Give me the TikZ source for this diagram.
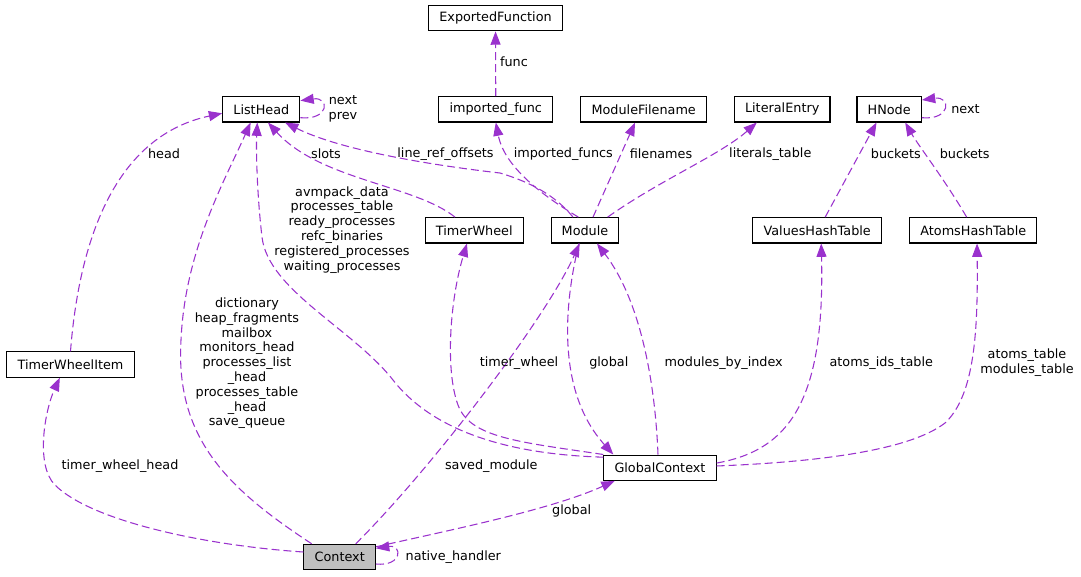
\documentclass[tikz,border=0pt]{standalone}
\usepackage{fontspec}
\setmainfont{DejaVu Sans}
\usepackage{tikz}
\usetikzlibrary{arrows.meta}
\definecolor{edgepurple}{HTML}{9A32CD}
\definecolor{ctxgray}{HTML}{BFBFBF}

\begin{document}
\begin{tikzpicture}[
  x=0.75pt,y=-0.75pt,
  every node/.style={font=\fontsize{9.6}{11.1}\selectfont},
  cls/.style={draw=black,line width=0.8pt,fill=white,minimum height=19pt,
              inner xsep=8pt,inner ysep=0pt},
  lbl/.style={align=center,inner sep=0pt},
  rel/.style={draw=edgepurple,dash pattern=on 6pt off 3pt,line width=0.8pt,
              -{Triangle[length=10pt,width=7.5pt]}}
]
\useasboundingbox (0,0) rectangle (1081,576);

\node[cls] (exportedfn) at (495.5,18.2) {ExportedFunction};
\node[cls] (listhead) at (261.3,109.3) {ListHead};
\node[cls] (importedfn) at (495.8,109.3) {imported\_func};
\node[cls] (modfilename) at (643.7,109.3) {ModuleFilename};
\node[cls] (literal) at (782.2,109.3) {LiteralEntry};
\node[cls] (hnode) at (889.2,109.3) {HNode};
\node[cls] (timerwheel) at (474.3,230.3) {TimerWheel};
\node[cls] (module) at (585,230.3) {Module};
\node[cls] (valueshash) at (817.2,230.3) {ValuesHashTable};
\node[cls] (atomshash) at (973.3,230.3) {AtomsHashTable};
\node[cls] (twitem) at (70.5,364.5) {TimerWheelItem};
\node[cls] (globalctx) at (660,467.7) {GlobalContext};
\node[cls,fill=ctxgray] (context) at (339.7,557) {Context};

\draw[rel] (importedfn) -- (exportedfn);
\draw[rel] ([yshift=-6.3pt]listhead.east) .. controls +(22pt,-2pt) and +(22pt,3pt) .. ([yshift=6.5pt]listhead.east);
\draw[rel] (twitem.north) .. controls (80,230) and (120,135) .. ([yshift=-3pt]listhead.west);
\draw[rel] ([xshift=-21pt]context.north) .. controls (230,490) and (175,440) .. (181,340)
  .. controls (185,250) and (225,180) .. ([xshift=-8pt]listhead.south);
\draw[rel] ([yshift=-2pt]globalctx.north west) .. controls (530,455) and (440,440) .. (393,380)
  .. controls (353,329) and (268,290) .. (262,237)
  .. controls (257,195) and (256,150) .. ([xshift=-3pt]listhead.south);
\draw[rel] ([xshift=-14.5pt]timerwheel.north) .. controls (415,185) and (320,180) .. ([xshift=5pt]listhead.south);
\draw[rel] ([xshift=-9pt]module.north) .. controls (555,195) and (530,182) .. (500,173)
  .. controls (430,165) and (340,150) .. ([xshift=17.8pt]listhead.south);
\draw[rel] ([xshift=-5pt]module.north) .. controls (550,200) and (505,170) .. (importedfn.south);
\draw[rel] ([xshift=6pt]module.north) -- ([xshift=-6.5pt]modfilename.south);
\draw[rel] ([xshift=17pt]module.north) .. controls (660,180) and (720,155) .. ([xshift=-19pt]literal.south);
\draw[rel] ([yshift=-6.3pt]hnode.east) .. controls +(22pt,-2pt) and +(22pt,3pt) .. ([yshift=7pt]hnode.east);
\draw[rel] ([xshift=6pt]valueshash.north) -- ([xshift=-9.5pt]hnode.south);
\draw[rel] ([xshift=-5pt]atomshash.north) .. controls (945,180) and (918,145) .. ([xshift=12pt]hnode.south);
\draw[rel] ([yshift=3.75pt]context.west) .. controls (200,545) and (90,520) .. (55,485)
  .. controls (35,465) and (45,410) .. ([xshift=-8pt]twitem.south);
\draw[rel] (globalctx.north west) .. controls (520,442) and (470,438) .. (458,405)
  .. controls (445,370) and (450,300) .. ([xshift=-5.5pt]timerwheel.south);
\draw[rel] ([xshift=12pt]context.north) .. controls (430,470) and (545,320) .. ([xshift=-4pt]module.south);
\draw[rel] ([xshift=-4.5pt]module.south) .. controls (565,300) and (555,390) .. ([xshift=-35pt]globalctx.north);
\draw[rel] ([xshift=-1.5pt]globalctx.north) .. controls (655,380) and (640,300) .. ([xshift=9pt]module.south);
\draw[rel] ([yshift=3.5pt]globalctx.east) .. controls (790,450) and (825,400) .. ([xshift=3pt]valueshash.south);
\draw[rel] ([yshift=1.3pt]globalctx.east) .. controls (820,462) and (910,450) .. (945,423)
  .. controls (975,395) and (978,330) .. ([xshift=2.8pt]atomshash.south);
\draw[rel] ([yshift=-2.25pt]context.north east) .. controls (450,530) and (550,510) .. ([xshift=-34pt]globalctx.south);
\draw[rel] ([yshift=-5.25pt]context.east) .. controls +(20pt,-2pt) and +(20pt,3pt) .. ([yshift=6.5pt]context.east);

\node[lbl] (func_lbl) at (514,62) {func};
\node[lbl] (lhnext_lbl) at (343,108.5) {next\\prev};
\node[lbl] (head_lbl) at (164,154) {head};
\node[lbl] (ctxlist_lbl) at (247,363.3) {dictionary\\heap\_fragments\\mailbox\\monitors\_head\\processes\_list\\\_head\\processes\_table\\\_head\\save\_queue};
\node[lbl] (gctxlist_lbl) at (342,229.7) {avmpack\_data\\processes\_table\\ready\_processes\\refc\_binaries\\registered\_processes\\waiting\_processes};
\node[lbl] (slots_lbl) at (326,154) {slots};
\node[lbl] (lineref_lbl) at (445.5,154) {line\_ref\_offsets};
\node[lbl] (impfuncs_lbl) at (563.3,154) {imported\_funcs};
\node[lbl] (filenames_lbl) at (661,154) {filenames};
\node[lbl] (literals_lbl) at (770.3,154) {literals\_table};
\node[lbl] (hnext_lbl) at (965.5,109) {next};
\node[lbl] (vbuckets_lbl) at (895.8,154) {buckets};
\node[lbl] (abuckets_lbl) at (964.7,154) {buckets};
\node[lbl] (twhead_lbl) at (120,466) {timer\_wheel\_head};
\node[lbl] (tw_lbl) at (519,362.7) {timer\_wheel};
\node[lbl] (saved_lbl) at (491.3,466) {saved\_module};
\node[lbl] (mglobal_lbl) at (608.8,362.7) {global};
\node[lbl] (mbi_lbl) at (723.7,362.7) {modules\_by\_index};
\node[lbl] (aids_lbl) at (881.3,363.3) {atoms\_ids\_table};
\node[lbl] (atoms_lbl) at (1027,363) {atoms\_table\\modules\_table};
\node[lbl] (cglobal_lbl) at (571.7,510.7) {global};
\node[lbl] (native_lbl) at (453.3,556.7) {native\_handler};
\end{tikzpicture}
\end{document}
